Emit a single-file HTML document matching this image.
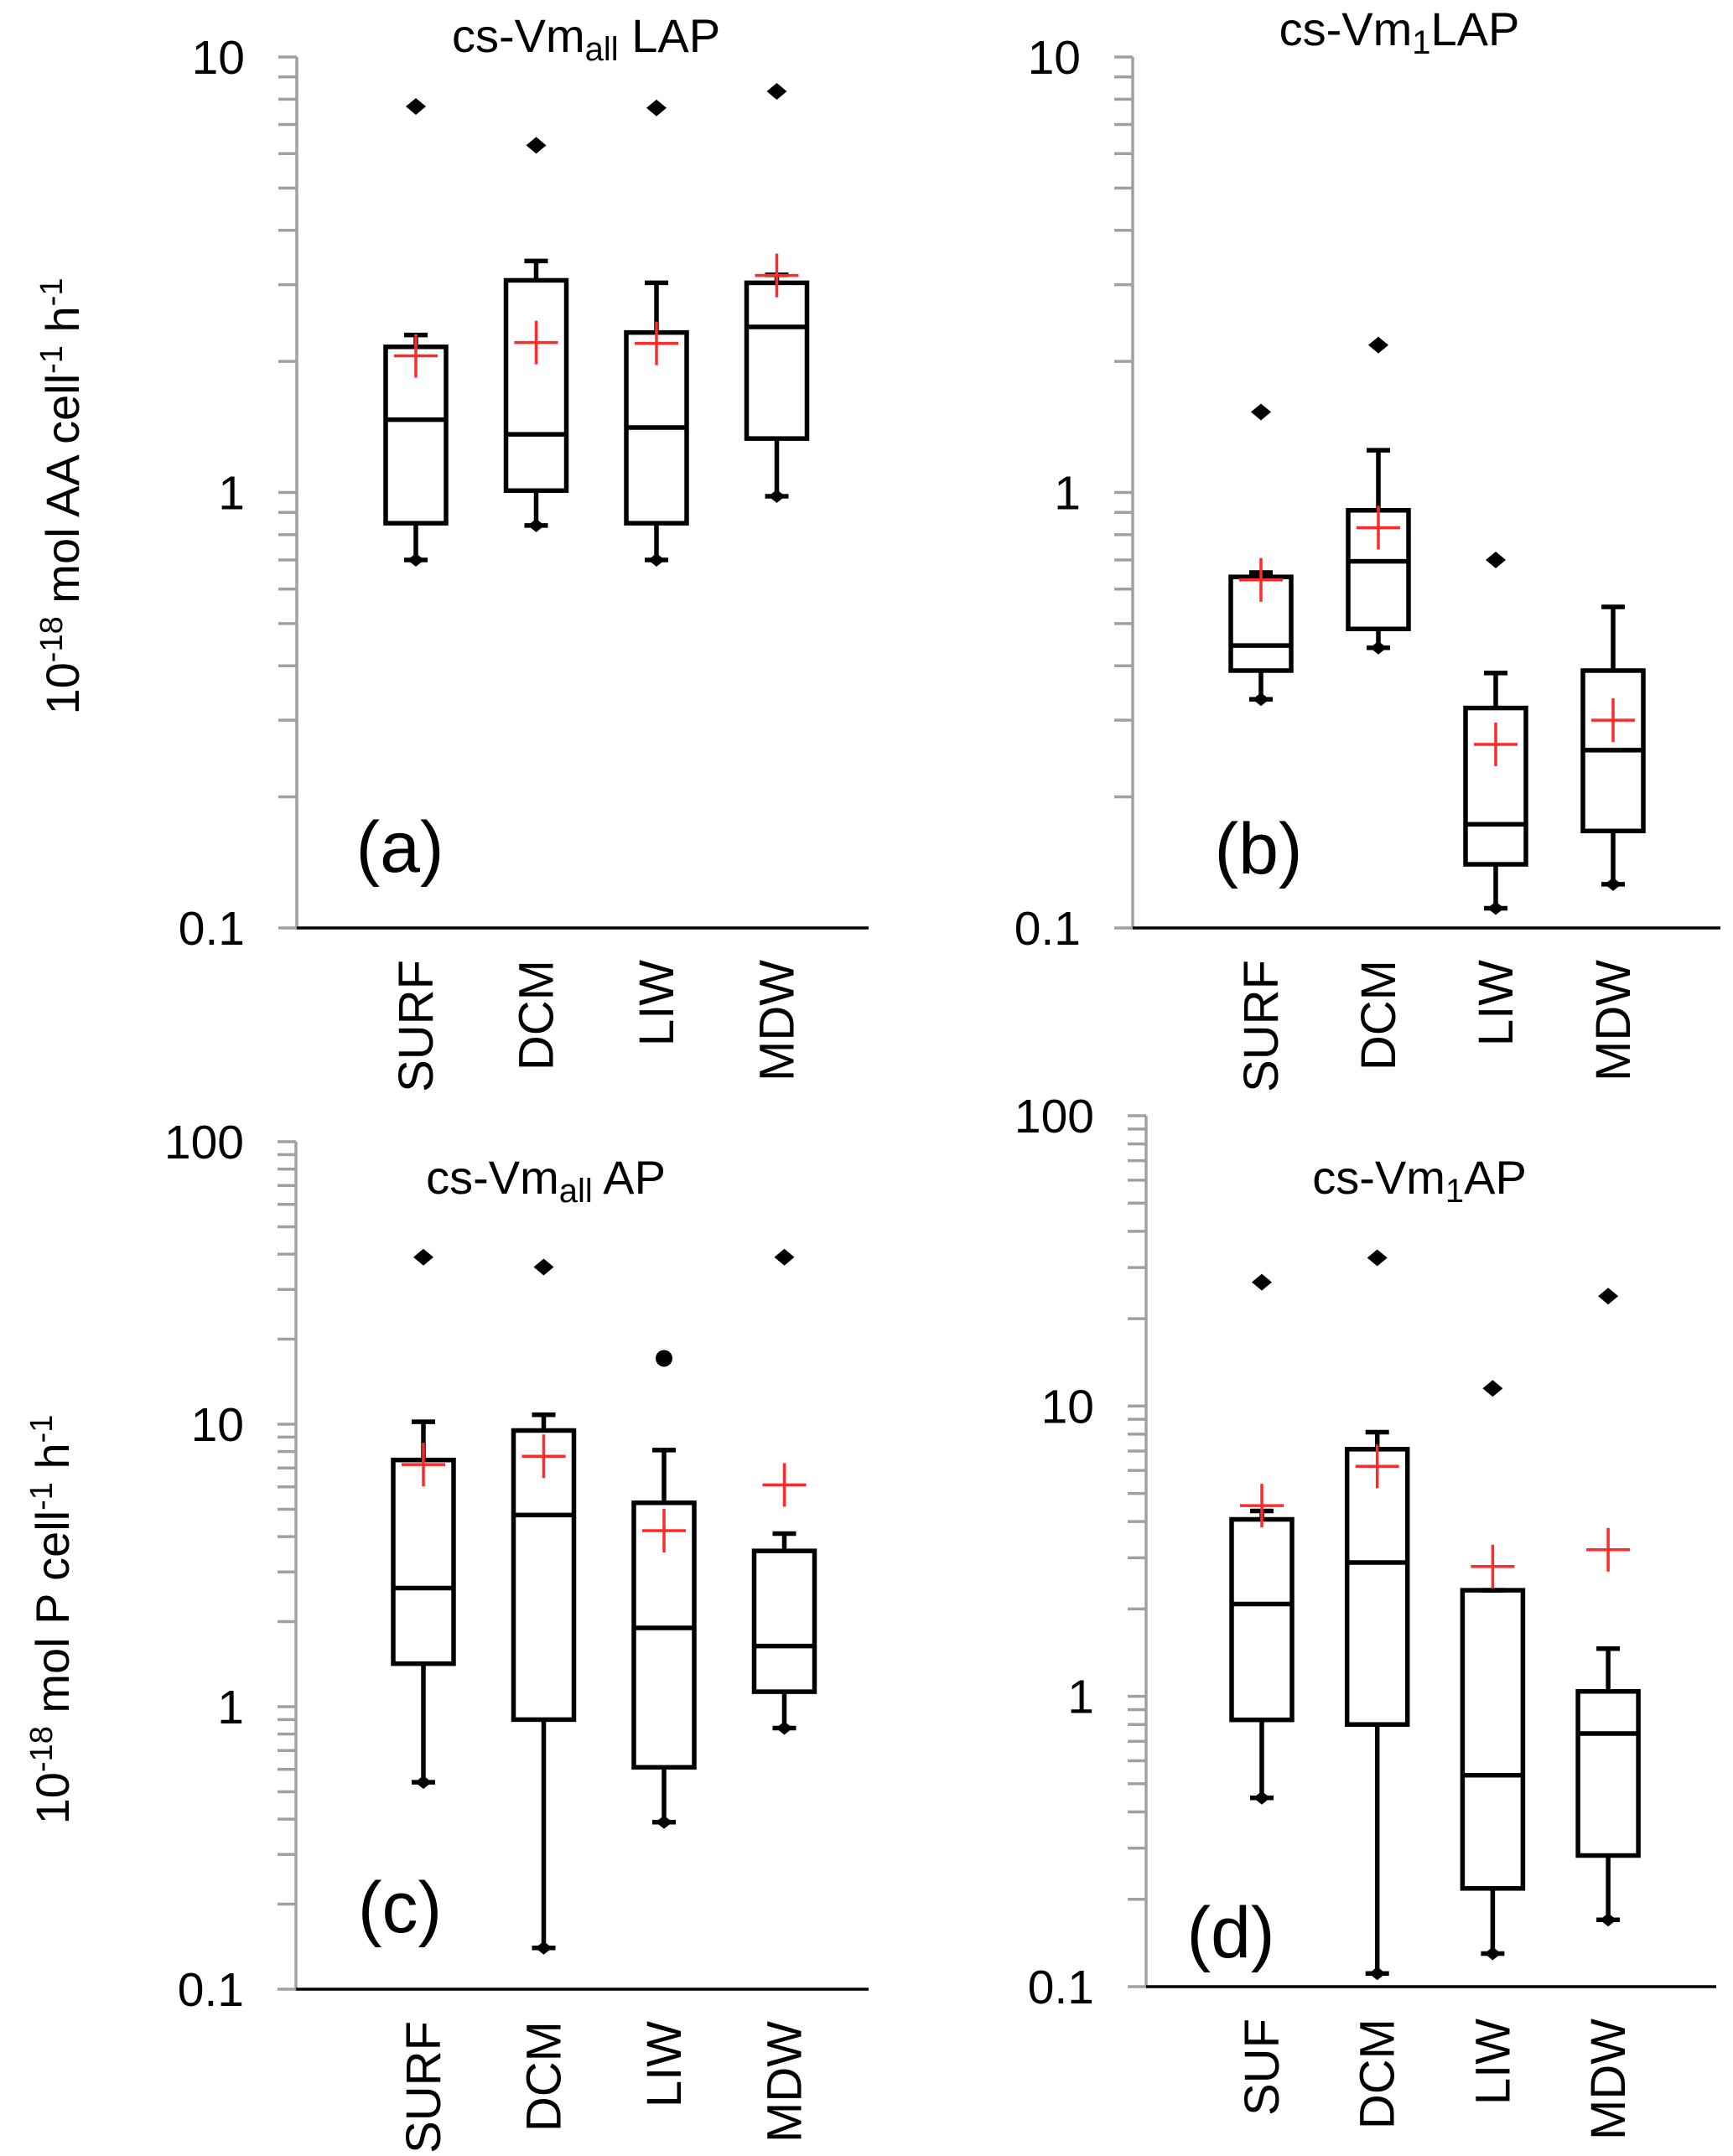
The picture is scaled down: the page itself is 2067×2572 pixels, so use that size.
<!DOCTYPE html>
<html><head><meta charset="utf-8"><style>
html,body{margin:0;padding:0;background:#fff;}
svg{display:block;font-family:"Liberation Sans",sans-serif;}
</style></head><body>
<svg id="fig" width="2067" height="2572" viewBox="0 0 2067 2572" xmlns="http://www.w3.org/2000/svg"></svg>
<script>
const categoriesA = ["SURF","DCM","LIW","MDW"];
const categoriesD = ["SUF","DCM","LIW","MDW"];
// panel a
const aQ1=[0.85,1.01,0.85,1.33], aMed=[1.47,1.36,1.41,2.4], aQ3=[2.16,3.07,2.33,3.03], aLo=[0.70,0.84,0.70,0.98], aHi=[2.3,3.4,3.03,3.16], aOut=[7.7,6.27,7.64,8.34], aMean=[2.06,2.21,2.2,3.15];
// panel b
const bQ1=[0.39,0.486,0.14,0.167], bMed=[0.445,0.695,0.173,0.256], bQ3=[0.64,0.91,0.32,0.39], bLo=[0.335,0.44,0.111,0.126], bHi=[0.655,1.25,0.385,0.546], bOut=[1.53,2.18,0.70,null], bMean=[0.63,0.83,0.264,0.30];
// panel c
const cQ1=[1.42,0.9,0.61,1.13], cMed=[2.63,4.77,1.9,1.64], cQ3=[7.47,9.5,5.27,3.56], cLo=[0.54,0.14,0.39,0.84], cHi=[10.2,10.8,8.1,4.1], cOut=[39,36,17.1,39], cMean=[7.2,7.7,4.2,6.1];
// panel d
const dQ1=[0.83,0.80,0.218,0.283], dMed=[2.08,2.89,0.535,0.745], dQ3=[4.07,7.1,2.32,1.04], dLo=[0.447,0.111,0.13,0.17], dHi=[4.35,8.13,2.32,1.46], dOut=[26.7,32.4,11.5,23.9], dMean=[4.54,6.2,2.8,3.2];

const NS="http://www.w3.org/2000/svg";
const svg=document.getElementById('fig');
function mk(tag,attrs,parent){const e=document.createElementNS(NS,tag);for(const k in attrs)e.setAttribute(k,attrs[k]);(parent||svg).appendChild(e);return e;}

function panel(p){
  const g=mk('g',{});
  
  
  const decPx=(p.yBot-p.yTop)/(p.maxExp-p.minExp);
  const y=v=>p.yBot-(Math.log10(v)-p.minExp)*decPx;
  const x=i=>p.x0+i*p.dx;
  for(let e=p.minExp;e<p.maxExp;e++){
    for(let m=1;m<=9;m++){
      const v=m*Math.pow(10,e);
      const t=mk('line',{x1:p.ax-22,x2:p.ax,y1:y(v),y2:y(v),stroke:'#a0a0a0','stroke-width':3.5},g);
      
      
    }
  }
  const tt=mk('line',{x1:p.ax-22,x2:p.ax,y1:p.yTop,y2:p.yTop,stroke:'#a0a0a0','stroke-width':3.5},g);
  
  
  const ya=mk('line',{x1:p.ax,x2:p.ax,y1:p.yTop,y2:p.yBot,stroke:'#a0a0a0','stroke-width':3.5},g);
  
  
  const xa=mk('line',{x1:p.ax,x2:p.xEnd,y1:p.yBot,y2:p.yBot,stroke:'#000','stroke-width':3.5},g);
  
  
  for(let e=p.minExp;e<=p.maxExp;e++){
    const v=Math.pow(10,e);
    const lab=e<0?v.toFixed(-e):String(v);
    const t=mk('text',{x:p.ax-62,y:y(v)+20,'text-anchor':'end','font-size':57,fill:'#000'},g);
    t.textContent=lab;
    
    
  }
  const hw=36, cw=14;
  for(let i=0;i<4;i++){
    const cx=x(i);
    const bx=mk('g',{},g);
    
    
    const st={stroke:'#000','stroke-width':5.5,fill:'none'};
    mk('line',Object.assign({x1:cx,x2:cx,y1:y(p.q3[i]),y2:y(p.hi[i])},st),bx);
    mk('line',Object.assign({x1:cx-cw,x2:cx+cw,y1:y(p.hi[i]),y2:y(p.hi[i])},st),bx);
    mk('line',Object.assign({x1:cx,x2:cx,y1:y(p.q1[i]),y2:y(p.lo[i])},st),bx);
    mk('line',Object.assign({x1:cx-cw,x2:cx+cw,y1:y(p.lo[i]),y2:y(p.lo[i])},st),bx);
    const ly=y(p.lo[i]);
    mk('path',{d:`M${cx-10} ${ly}L${cx} ${ly-8}L${cx+10} ${ly}L${cx} ${ly+8}Z`,fill:'#000'},bx);
    mk('rect',Object.assign({x:cx-hw,y:y(p.q3[i]),width:2*hw,height:y(p.q1[i])-y(p.q3[i])},st),bx);
    mk('line',Object.assign({x1:cx-hw,x2:cx+hw,y1:y(p.med[i]),y2:y(p.med[i])},st),bx);
    if(p.out[i]!=null){
      const oy=y(p.out[i]);
      let o;
      if(p.circ===i) o=mk('circle',{cx:cx,cy:oy,r:10,fill:'#000'},g);
      else o=mk('path',{d:`M${cx-12} ${oy}L${cx} ${oy-10}L${cx+12} ${oy}L${cx} ${oy+10}Z`,fill:'#000'},g);
      
      
    }
    const my=y(p.mean[i]);
    const mm=mk('path',{d:`M${cx-26} ${my}H${cx+26}M${cx} ${my-26}V${my+26}`,stroke:'#ff2a2a','stroke-width':3.5,fill:'none'},g);
    
    
    const cl=mk('text',{x:0,y:0,'text-anchor':'end','font-size':58,fill:'#000',transform:`translate(${cx+20},${p.yBot+38}) rotate(-90)`},g);
    cl.textContent=p.cats[i];
    
    
  }
  const ti=mk('text',{x:p.tx,y:p.ty,'text-anchor':'middle','font-size':56,fill:'#000'},g);
  ti.innerHTML=p.title;
  
  
  const pl=mk('text',{x:p.lx,y:p.ly,'text-anchor':'middle','font-size':86,fill:'#000'},g);
  pl.textContent='('+p.id+')';
  
  
}
panel({id:'a',ax:354,yTop:68,yBot:1107,minExp:-1,maxExp:1,x0:496,dx:143.5,xEnd:1036,cats:categoriesA,q1:aQ1,med:aMed,q3:aQ3,lo:aLo,hi:aHi,out:aOut,mean:aMean,
  title:'cs-Vm<tspan font-size="40" dy="10">all</tspan><tspan dy="-10"> LAP</tspan>',tx:699,ty:62,lx:477,ly:1040});
panel({id:'b',ax:1351,yTop:68,yBot:1107,minExp:-1,maxExp:1,x0:1504,dx:140,xEnd:2052,cats:categoriesA,q1:bQ1,med:bMed,q3:bQ3,lo:bLo,hi:bHi,out:bOut,mean:bMean,
  title:'cs-Vm<tspan font-size="40" dy="10">1</tspan><tspan dy="-10">LAP</tspan>',tx:1669,ty:54,lx:1501,ly:1042});
panel({id:'c',ax:353,yTop:1362,yBot:2373,minExp:-1,maxExp:2,x0:505,dx:143.5,xEnd:1036,cats:categoriesA,q1:cQ1,med:cMed,q3:cQ3,lo:cLo,hi:cHi,out:cOut,mean:cMean,circ:2,
  title:'cs-Vm<tspan font-size="40" dy="10">all</tspan><tspan dy="-10"> AP</tspan>',tx:651,ty:1424,lx:477,ly:2305});
panel({id:'d',ax:1367,yTop:1331,yBot:2370,minExp:-1,maxExp:2,x0:1505,dx:137.7,xEnd:2047,cats:categoriesD,q1:dQ1,med:dMed,q3:dQ3,lo:dLo,hi:dHi,out:dOut,mean:dMean,
  title:'cs-Vm<tspan font-size="40" dy="10">1</tspan><tspan dy="-10">AP</tspan>',tx:1693,ty:1424,lx:1468,ly:2335});

const t1=mk('text',{x:0,y:0,'text-anchor':'middle','font-size':56,fill:'#000',transform:'translate(94,592) rotate(-90)'});
t1.innerHTML='10<tspan font-size="38" dy="-20">-18</tspan><tspan dy="20"> mol AA cell</tspan><tspan font-size="38" dy="-20">-1</tspan><tspan dy="20"> h</tspan><tspan font-size="38" dy="-20">-1</tspan>';


const t2=mk('text',{x:0,y:0,'text-anchor':'middle','font-size':56,fill:'#000',transform:'translate(82,1932) rotate(-90)'});
t2.innerHTML='10<tspan font-size="38" dy="-20">-18</tspan><tspan dy="20"> mol P cell</tspan><tspan font-size="38" dy="-20">-1</tspan><tspan dy="20"> h</tspan><tspan font-size="38" dy="-20">-1</tspan>';


</script>
</body></html>
